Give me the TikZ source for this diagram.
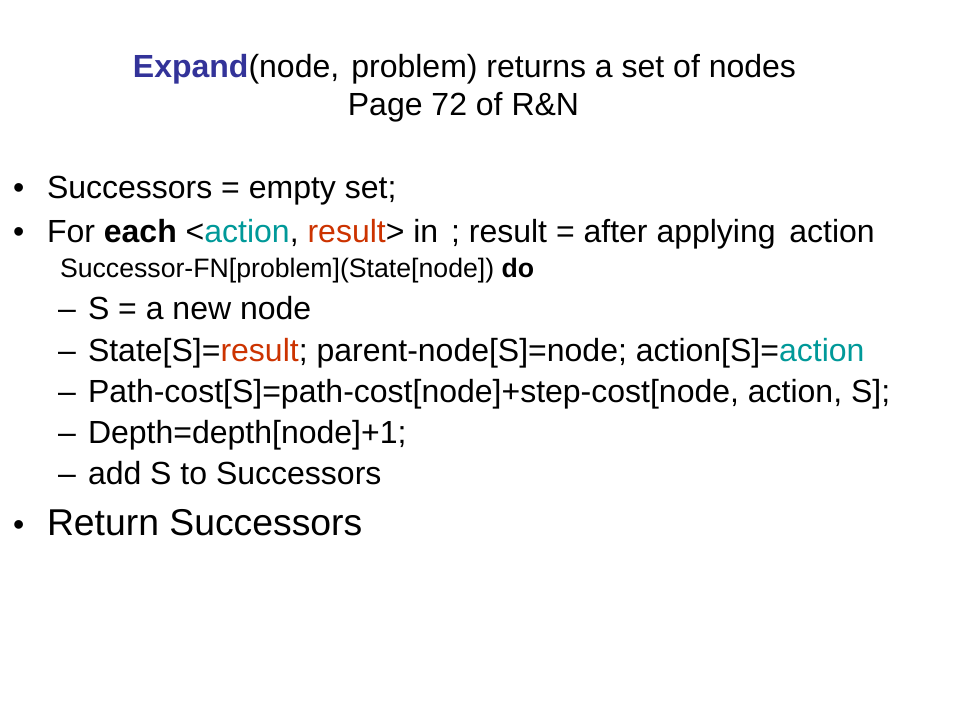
\documentclass[tikz,border=0pt]{standalone}
\usepackage{fontspec}
\setmainfont{Liberation Sans}
\definecolor{titleblue}{HTML}{333399}
\definecolor{actteal}{HTML}{009999}
\definecolor{resred}{HTML}{CC3300}
\newcommand{\act}[1]{\textcolor{actteal}{#1}}
\newcommand{\res}[1]{\textcolor{resred}{#1}}
\begin{document}
\begin{tikzpicture}[x=0.75pt,y=-0.75pt,
  txt/.style={inner sep=0pt,outer sep=0pt,anchor=base west,font=\fontsize{24}{28}\selectfont},
  small/.style={inner sep=0pt,outer sep=0pt,anchor=base west,font=\fontsize{20}{24}\selectfont},
  big/.style={inner sep=0pt,outer sep=0pt,anchor=base west,font=\fontsize{28}{32}\selectfont},
  ctr/.style={inner sep=0pt,outer sep=0pt,anchor=base,font=\fontsize{24}{28}\selectfont}]
\useasboundingbox (0,0) rectangle (960,720);
\fill[white] (0,0) rectangle (960,720);
% title
\node[ctr] (t1) at (464.5,78) {\textbf{\textcolor{titleblue}{Expand}}(node,\hspace{0.1em} problem) returns a set of nodes};
\node[ctr] (t2) at (463.5,116) {Page 72 of R\&N};
% bullets
\node[txt] (b1) at (13,199) {•};
\node[txt] (l1) at (47,199) {Successors = empty set;};
\node[txt] (b2) at (13,243) {•};
\node[txt] (l2) at (47,243) {For \textbf{each} <\act{action}, \res{result}> in\hspace{0.4em}; result = after applying\hspace{0.15em} action};
\node[small] (l2b) at (60,277) {Successor-FN[problem](State[node]) \textbf{do}};
% dashes
\node[txt] (d1) at (58,320) {–};
\node[txt] (s1) at (88,320) {S = a new node};
\node[txt] (d2) at (58,361) {–};
\node[txt] (s2) at (88,361) {State[S]=\res{result}; parent-node[S]=node; action[S]=\act{action}};
\node[txt] (d3) at (58,402) {–};
\node[txt] (s3) at (88,402) {Path-cost[S]=path-cost[node]+step-cost[node, action, S];};
\node[txt] (d4) at (58,443) {–};
\node[txt] (s4) at (88,443) {Depth=depth[node]+1;};
\node[txt] (d5) at (58,484) {–};
\node[txt] (s5) at (88,484) {add S to Successors};
% return
\node[txt] (b3) at (13,535) {•};
\node[big] (l3) at (47,535) {Return Successors};
\end{tikzpicture}
\end{document}
